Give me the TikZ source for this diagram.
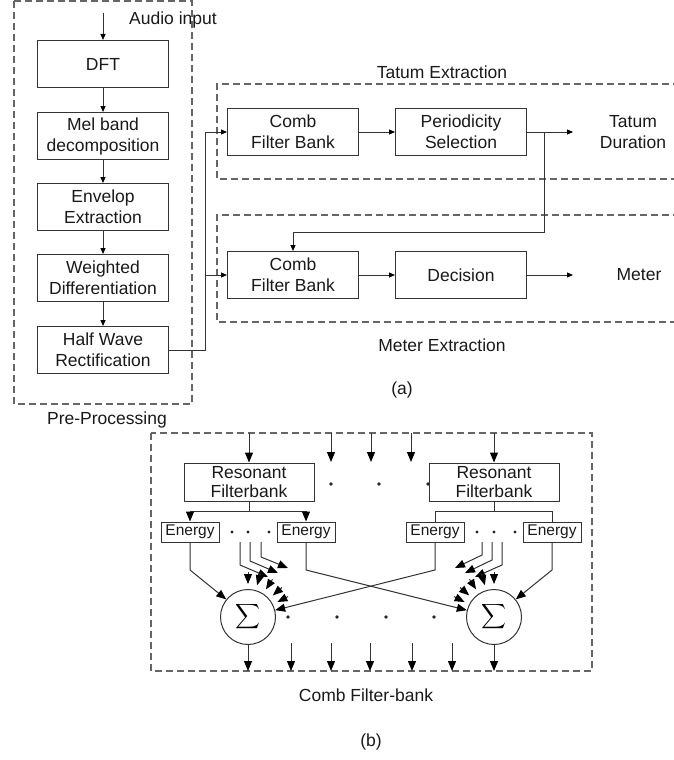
\documentclass[tikz,border=0pt]{standalone}
\usepackage{amsmath}
\usepackage{fontspec}
\setmainfont{Liberation Sans}
\usetikzlibrary{arrows.meta}

\tikzset{
  blk/.style={draw=black!80, line width=1pt, minimum width=131, minimum height=47,
    inner sep=0, align=center, text=black!90, font=\fontsize{17.5}{21}\selectfont},
  res/.style={blk, minimum width=130, minimum height=38, font=\fontsize{17.5}{19}\selectfont},
  nrg/.style={blk, minimum width=58, minimum height=20, font=\fontsize{15.5}{17}\selectfont},
  sig/.style={circle, draw=black!80, line width=1pt, minimum size=55, inner sep=0,
    font=\fontsize{19}{19}\selectfont},
  lbl/.style={align=center, text=black!90, font=\fontsize{17.5}{21}\selectfont},
  grp/.style={draw=black!60, line width=1.2pt, dash pattern=on 7pt off 4pt},
  wire/.style={draw=black!80, line width=1pt},
  arra/.style={wire, -{Triangle[length=6pt,width=5pt,color=black]}},
  arrb/.style={wire, -{Triangle[length=10pt,width=8pt,color=black]}}
}

\begin{document}
\begin{tikzpicture}[x=1pt, y=-1pt]
  \useasboundingbox (0,0) rectangle (673,760);

  % (a) pre-processing
  \draw[grp] (14,1) rectangle (192,404);
  \node[lbl] (prelbl) at (107,420) {Pre-Processing};
  \node[lbl] (ainlbl) at (173,20) {Audio input};
  \coordinate (ain) at (103,13);
  \node[blk] (dft) at (103,64) {DFT};
  \node[blk] (mel) at (103,136) {Mel band\\decomposition};
  \node[blk] (env) at (103,207) {Envelop\\Extraction};
  \node[blk] (wdiff) at (103,278) {Weighted\\Differentiation};
  \node[blk] (hwr) at (103,350) {Half Wave\\Rectification};
  \draw[arra] (ain) -- (dft);
  \foreach \a/\b in {dft/mel, mel/env, env/wdiff, wdiff/hwr}
    \draw[arra] (\a) -- (\b);

  % tatum / meter extraction
  \draw[grp] (680,84) -- (217,84) -- (217,179) -- (680,179);
  \draw[grp] (680,215) -- (217,215) -- (217,322) -- (680,322);
  \node[lbl] (tatlbl) at (442,72) {Tatum Extraction};
  \node[lbl] (metlbl) at (442,345) {Meter Extraction};
  \node[blk] (comb1) at (293,132) {Comb\\Filter Bank};
  \node[blk] (persel) at (461,132) {Periodicity\\Selection};
  \node[blk] (comb2) at (293,275) {Comb\\Filter Bank};
  \node[blk] (dec) at (461,275) {Decision};
  \node[lbl] (tatdur) at (633,132) {Tatum\\Duration};
  \node[lbl] (meter) at (639,275) {Meter};
  \coordinate (tout) at (573,132);
  \coordinate (mout) at (573,275);
  \coordinate (brch) at (544,132);
  \coordinate (feed) at (205,350);
  \draw[arra] (comb1) -- (persel);
  \draw[arra] (comb2) -- (dec);
  \draw[arra] (persel) -- (tout);
  \draw[arra] (dec) -- (mout);
  \draw[arra] (brch) -- (544,232) -| (comb2);
  \draw[arra] (hwr.east) -- (feed) |- (comb1);
  \draw[arra] (feed) |- (comb2);
  \node[lbl] (alab) at (402,390) {(a)};

  % (b) comb filter-bank
  \draw[grp] (151,433) rectangle (592,671);
  \coordinate (btop) at (0,433);
  \coordinate (bbot) at (0,671);
  \node[lbl] (cfblbl) at (366,695) {Comb Filter-bank};
  \node[lbl] (blab) at (371,742) {(b)};
  \node[res] (rfb1) at (249,482) {Resonant\\Filterbank};
  \node[res] (rfb2) at (494,482) {Resonant\\Filterbank};
  \draw[arrb] (rfb1.north |- btop) -- (rfb1);
  \draw[arrb] (rfb2.north |- btop) -- (rfb2);
  \foreach \x in {331,371,411}
    \draw[arrb] (\x,433) -- (\x,462);
  \foreach \x in {331,379,428}
    \fill[black!85] (\x,484) circle (1.8);

  \node[nrg] (en1) at (190,532) {Energy};
  \node[nrg] (en2) at (306,532) {Energy};
  \node[nrg] (en3) at (435,532) {Energy};
  \node[nrg] (en4) at (552,532) {Energy};
  \coordinate (j1) at (249,511);
  \coordinate (j2) at (494,511);
  \draw[wire] (rfb1) -- (j1);
  \draw[arrb] (j1) -| (en1);
  \draw[arrb] (j1) -| (en2);
  \draw[wire] (rfb2) -- (j2);
  \draw[wire] (j2) -| (en3);
  \draw[wire] (j2) -| (en4);
  \foreach \x in {232,248,269,477,494,515}
    \fill[black!85] (\x,532) circle (1.6);

  \node[sig] (sig1) at (248,617) {$\displaystyle\sum$};
  \node[sig] (sig2) at (494,617) {$\displaystyle\sum$};
  \draw[arrb] (en1) -- (190,570) -- (sig1);
  \draw[arrb] (en2) -- (306,570) -- (sig2);
  \draw[arrb] (en3) -- (435,570) -- (sig1);
  \draw[arrb] (en4) -- (552,570) -- (sig2);

  % bundled inputs
  \draw[arrb] (240,542) -- (240,565) -- (268,577);
  \draw[arrb] (250,542) -- (250,561) -- (278,573);
  \draw[arrb] (261,542) -- (261,557) -- (288,568);
  \draw[arrb] (502,542) -- (502,565) -- (475,577);
  \draw[arrb] (492,542) -- (492,560) -- (465,573);
  \draw[arrb] (482,542) -- (482,555) -- (455,568);
  \foreach \a in {90,74,57,41,27}
    \draw[arrb] ([shift={(-\a:45)}]sig1.center) -- ([shift={(-\a:33)}]sig1.center);
  \foreach \a in {90,106,123,139,153}
    \draw[arrb] ([shift={(-\a:45)}]sig2.center) -- ([shift={(-\a:33)}]sig2.center);

  \foreach \x in {288,337,386,434}
    \fill[black!85] (\x,617) circle (1.8);
  \draw[arrb] (sig1) -- (sig1 |- bbot);
  \draw[arrb] (sig2) -- (sig2 |- bbot);
  \foreach \x in {291,331,370,412,452}
    \draw[arrb] (\x,643) -- (\x,671);
\end{tikzpicture}
\end{document}
